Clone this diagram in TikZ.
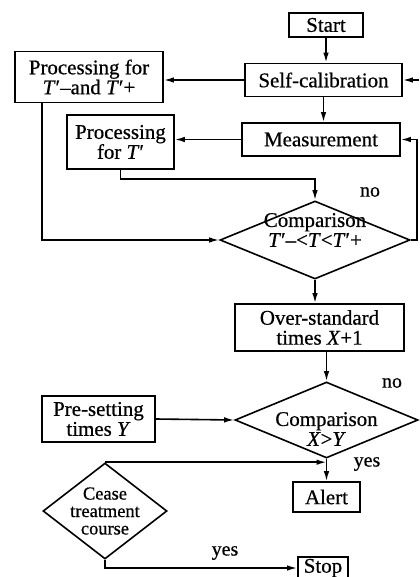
\documentclass[tikz,border=0pt]{standalone}
\usepackage{fontspec}
\setmainfont{Liberation Serif}[FakeBold=0.6]
\usetikzlibrary{shapes.geometric,arrows.meta}
\begin{document}
\begin{tikzpicture}[x=1bp,y=-1bp,line width=1.6bp,
  box/.style={draw,rectangle,inner sep=0pt,align=center,font=\fontsize{21}{20}\selectfont},
  dia/.style={draw,diamond,inner sep=0pt},
  dtext/.style={inner sep=0pt,align=center,font=\fontsize{21}{20}\selectfont},
  ctext/.style={inner sep=0pt,align=center,font=\fontsize{18.5}{17.5}\selectfont},
  lbl/.style={inner sep=0pt,font=\fontsize{20}{20}\selectfont},
  arr/.style={-{Latex[length=10bp,width=5.5bp]}}]
\useasboundingbox (0,0) rectangle (419,577);
% boxes
\node[box,minimum width=74bp,minimum height=24bp] (start) at (326,25) {Start};
\node[box,minimum width=157bp,minimum height=33bp] (selfcal) at (323.5,80) {Self-calibration};
\node[box,minimum width=148bp,minimum height=51bp] (procpm) at (89,77) {Processing for\\\textit{T}′–and \textit{T}′+};
\node[box,minimum width=158bp,minimum height=33bp] (meas) at (321,139.5) {Measurement};
\node[box,minimum width=107bp,minimum height=54bp] (proct) at (120.5,142) {Processing\\for \textit{T}′};
\node[dia,minimum width=190bp,minimum height=78bp] (cmp1) at (315,240) {};
\node[dtext] (cmp1t) at ([yshift=10bp]cmp1.center) {Comparison\\\textit{T}′–<\textit{T}<\textit{T}′+};
\node[box,minimum width=169bp,minimum height=47bp] (over) at (319.5,327.5) {Over-standard\\times \textit{X}+1};
\node[dia,minimum width=183bp,minimum height=76bp] (cmp2) at (326.5,420) {};
\node[dtext] (cmp2t) at ([yshift=-9bp]cmp2.center) {Comparison\\\textit{X}>\textit{Y}};
\node[box,minimum width=113bp,minimum height=46bp] (preset) at (98.5,419) {Pre-setting\\times \textit{Y}};
\node[box,minimum width=67bp,minimum height=30bp] (alert) at (326.5,497) {Alert};
\node[dia,minimum width=124bp,minimum height=96bp] (cease) at (105,511) {};
\node[ctext] (ceaset) at (cease.center) {Cease\\treatment\\course};
\node[box,minimum width=50bp,minimum height=22bp] (stop) at (323,568) {Stop};
% labels
\node[lbl] (no1) at (370,192) {no};
\node[lbl] (no2) at (392,383) {no};
\node[lbl] (yes1) at (367,464) {yes};
\node[lbl] (yes2) at (225,553) {yes};
% connectors
\draw[arr] (start.south) -- (start.south |- selfcal.north);
\draw[arr] (selfcal.west) -- (selfcal.west -| procpm.east);
\draw[arr] (selfcal.south) -- (selfcal.south |- meas.north);
\draw[arr] (meas.west) -- (meas.west -| proct.east);
\draw[arr] (proct.south) -- ++(0,9) -| (cmp1.north);
\draw[arr] ([xshift=28bp]procpm.south west) |- (cmp1.west);
\draw[arr] (cmp1.east) -- ++(6,0) |- (meas.east);
\coordinate (scin) at (419,80);
\draw[arr] (scin) -- (selfcal.east);
\draw[arr] (cmp1.south) -- (cmp1.south |- over.north);
\draw[arr] (cmp2.north |- over.south) -- (cmp2.north);
\draw[arr] (preset.east) -- (cmp2.west);
\draw[arr] (cmp2.south) -- (alert.north);
\draw[arr] (cease.north) -- (cease.north -| alert.north);
\draw[arr] (cease.south) |- (stop.west);
\end{tikzpicture}
\end{document}
